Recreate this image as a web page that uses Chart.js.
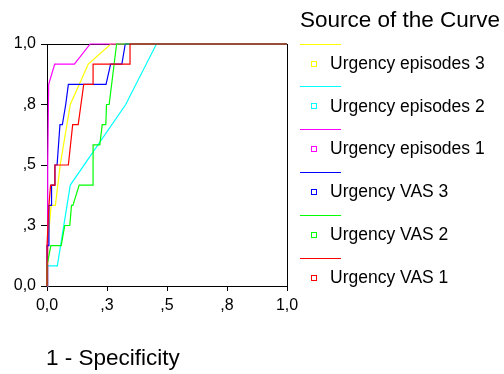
<!DOCTYPE html>
<html>
<head>
<meta charset="utf-8">
<script src="https://cdn.jsdelivr.net/npm/chart.js@4.4.0/dist/chart.umd.min.js"></script>
<style>
  html, body { margin: 0; padding: 0; background: #fff; }
</style>
</head>
<body>
<canvas id="rocChart" width="504" height="374"></canvas>
<script>
// legend order, top to bottom
var seriesNames = ["Urgency episodes 3", "Urgency episodes 2", "Urgency episodes 1",
                   "Urgency VAS 3", "Urgency VAS 2", "Urgency VAS 1"];
var seriesColors = ["#ffff00", "#00ffff", "#ff00ff", "#0000ff", "#00ff00", "#ff0000"];

// 1 - specificity (x) and sensitivity (y)
var fprEpisodes3 = [0, 0.003, 0.017, 0.035, 0.055, 0.097, 0.172, 0.266, 1];
var tprEpisodes3 = [0, 0.167, 0.333, 0.333, 0.5, 0.75, 0.917, 1, 1];

var fprEpisodes2 = [0, 0.003, 0.043, 0.097, 0.328, 0.456, 1];
var tprEpisodes2 = [0, 0.083, 0.083, 0.417, 0.75, 1, 1];

var fprEpisodes1 = [0, 0.003, 0.007, 0.032, 0.114, 0.18, 1];
var tprEpisodes1 = [0, 0.5, 0.833, 0.917, 0.917, 1, 1];

var fprVas3 = [0, 0, 0.008, 0.008, 0.019, 0.019, 0.033, 0.033, 0.042, 0.054, 0.064, 0.078, 0.089, 0.246, 0.265, 0.312, 0.326, 1];
var tprVas3 = [0, 0.167, 0.167, 0.333, 0.333, 0.417, 0.417, 0.5, 0.5, 0.667, 0.667, 0.75, 0.833, 0.833, 0.917, 0.917, 1, 1];

var fprVas2 = [0, 0, 0.016, 0.059, 0.074, 0.095, 0.102, 0.108, 0.134, 0.192, 0.192, 0.22, 0.23, 0.245, 0.248, 0.259, 0.29, 1];
var tprVas2 = [0, 0.083, 0.167, 0.167, 0.25, 0.25, 0.333, 0.333, 0.417, 0.417, 0.583, 0.583, 0.667, 0.667, 0.75, 0.75, 1, 1];

var fprVas1 = [0, 0, 0.008, 0.015, 0.033, 0.033, 0.089, 0.107, 0.13, 0.153, 0.192, 0.192, 0.346, 0.346, 1];
var tprVas1 = [0, 0.167, 0.333, 0.417, 0.417, 0.5, 0.5, 0.667, 0.667, 0.833, 0.833, 0.917, 0.917, 1, 1];

var fprSeries = [fprEpisodes3, fprEpisodes2, fprEpisodes1, fprVas3, fprVas2, fprVas1];
var tprSeries = [tprEpisodes3, tprEpisodes2, tprEpisodes1, tprVas3, tprVas2, tprVas1];

var tickValues = [0, 0.25, 0.5, 0.75, 1];
var tickLabels = ["0,0", ",3", ",5", ",8", "1,0"];

var legendTitle = "Source of the Curve";
var xTitle = "1 - Specificity";

var fontFamily = "'Liberation Sans', Arial, sans-serif";

function toPoints(xs, ys) {
  return xs.map(function (x, i) { return { x: x, y: ys[i] }; });
}

var datasets = seriesNames.map(function (name, i) {
  return {
    label: name,
    data: toPoints(fprSeries[i], tprSeries[i]),
    borderColor: seriesColors[i],
    backgroundColor: seriesColors[i],
    borderWidth: 1.2,
    pointRadius: 0,
    showLine: true,
    tension: 0,
    clip: 2,
    order: seriesNames.length - 1 - i   // last one (red) on top
  };
});

var frameAndLegend = {
  id: "frameAndLegend",
  beforeDatasetsDraw: function (chart) {
    var a = chart.chartArea, ctx = chart.ctx;
    ctx.save();
    ctx.strokeStyle = "#000";
    ctx.lineWidth = 1;
    ctx.strokeRect(Math.round(a.left) + 0.5, Math.round(a.top) + 0.5,
                   Math.round(a.right - a.left), Math.round(a.bottom - a.top));
    ctx.restore();
  },
  afterDraw: function (chart) {
    var ctx = chart.ctx;
    ctx.save();
    ctx.fillStyle = "#000";
    ctx.textBaseline = "alphabetic";
    ctx.font = "22.5px " + fontFamily;
    ctx.fillText(legendTitle, 300, 27);

    ctx.font = "22.5px " + fontFamily;
    ctx.fillText(xTitle, 46, 365);

    ctx.font = "17.5px " + fontFamily;
    ctx.textBaseline = "middle";
    ctx.lineWidth = 1;
    for (var i = 0; i < seriesNames.length; i++) {
      var y = 43.5 + i * 42.8;
      var ly = Math.round(y) + 0.5;
      ctx.strokeStyle = seriesColors[i];
      ctx.beginPath();
      ctx.moveTo(300, ly);
      ctx.lineTo(341, ly);
      ctx.stroke();
      ctx.strokeRect(311.5, Math.round(y + 17) + 0.5, 5, 5);
      ctx.fillStyle = "#000";
      ctx.fillText(seriesNames[i], 330, y + 20.5);
    }
    ctx.restore();
  }
};

function axisOptions(isX) {
  return {
    type: "linear",
    min: 0,
    max: 1,
    afterBuildTicks: function (scale) {
      scale.ticks = tickValues.map(function (v) { return { value: v }; });
    },
    afterFit: function (scale) {
      if (isX) scale.height = 88; else scale.width = 47;
    },
    ticks: {
      autoSkip: false,
      maxRotation: 0,
      color: "#000",
      padding: 5,
      font: { family: fontFamily, size: 16 },
      callback: function (v, i) { return tickLabels[i]; }
    },
    grid: {
      drawOnChartArea: false,
      drawTicks: true,
      tickLength: isX ? 5 : 6,
      color: "#000",
      lineWidth: 1
    },
    border: { display: true, color: "#000", width: 1 }
  };
}

new Chart("rocChart", {
  type: "scatter",
  data: { datasets: datasets },
  options: {
    responsive: false,
    animation: false,
    devicePixelRatio: 1,
    layout: { padding: { left: 0, top: 44, right: 217, bottom: 0 } },
    plugins: {
      legend: { display: false },
      tooltip: { enabled: false }
    },
    scales: {
      x: axisOptions(true),
      y: axisOptions(false)
    }
  },
  plugins: [frameAndLegend]
});
</script>
</body>
</html>
